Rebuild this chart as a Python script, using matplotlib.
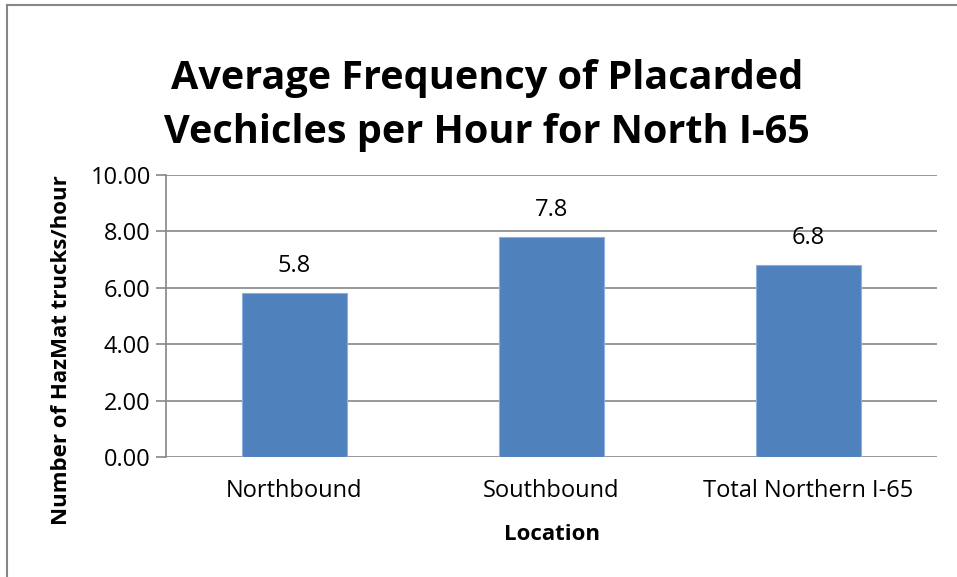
import matplotlib.pyplot as plt
from matplotlib.lines import Line2D

categories = ["Northbound", "Southbound", "Total Northern I-65"]
values = [5.8, 7.8, 6.8]
yticks = [0, 2, 4, 6, 8, 10]

plt.rcParams["font.family"] = ["Open Sans", "DejaVu Sans"]

fig = plt.figure(figsize=(9.57, 5.77), dpi=100)
ax = fig.add_axes([166 / 957, 1 - 457 / 577, 771 / 957, 282 / 577])

x = range(len(categories))
bars = ax.bar(x, values, width=0.405, color="#4F81BD", edgecolor="#8FB0DC",
              linewidth=0.8, zorder=3)
for b, v in zip(bars, values):
    ax.annotate(f"{v:.1f}", (b.get_x() + b.get_width() / 2, v),
                xytext=(0, 11), textcoords="offset points",
                ha="center", va="bottom", fontsize=17)

ax.set_xlim(-0.5, len(categories) - 0.5)
ax.set_ylim(0, 10)
ax.set_yticks(yticks)
ax.set_yticklabels([f"{t:.2f}" for t in yticks], fontsize=17)
ax.set_xticks(list(x))
ax.set_xticklabels(categories, fontsize=17)
ax.grid(axis="y", color="#868686", linewidth=1.2, zorder=0)
ax.tick_params(axis="y", length=7, width=1.2, color="#868686", pad=4)
ax.tick_params(axis="x", length=0, pad=16)
for s in ["top", "right", "bottom"]:
    ax.spines[s].set_visible(False)
ax.spines["left"].set_color("#868686")
ax.spines["left"].set_linewidth(1.2)

ax.set_xlabel("Location", fontsize=16, fontweight="bold", labelpad=15)
fig.text(62 / 957, 1 - 350 / 577, "Number of HazMat trucks/hour", rotation=90,
         ha="center", va="center", fontsize=16, fontweight="bold")

fig.text(487 / 957, 1 - 105 / 577, "Average Frequency of Placarded\nVechicles per Hour for North I-65",
         ha="center", va="center", fontsize=28.5, fontweight="bold", linespacing=1.5)

# chart border (left and top only visible)
fig.add_artist(Line2D([7 / 957, 7 / 957], [0, 1 - 5 / 577], transform=fig.transFigure,
                      color="#868686", linewidth=1.5))
fig.add_artist(Line2D([7 / 957, 1], [1 - 5 / 577, 1 - 5 / 577], transform=fig.transFigure,
                      color="#868686", linewidth=1.5))

fig.savefig("out.png", dpi=100)
